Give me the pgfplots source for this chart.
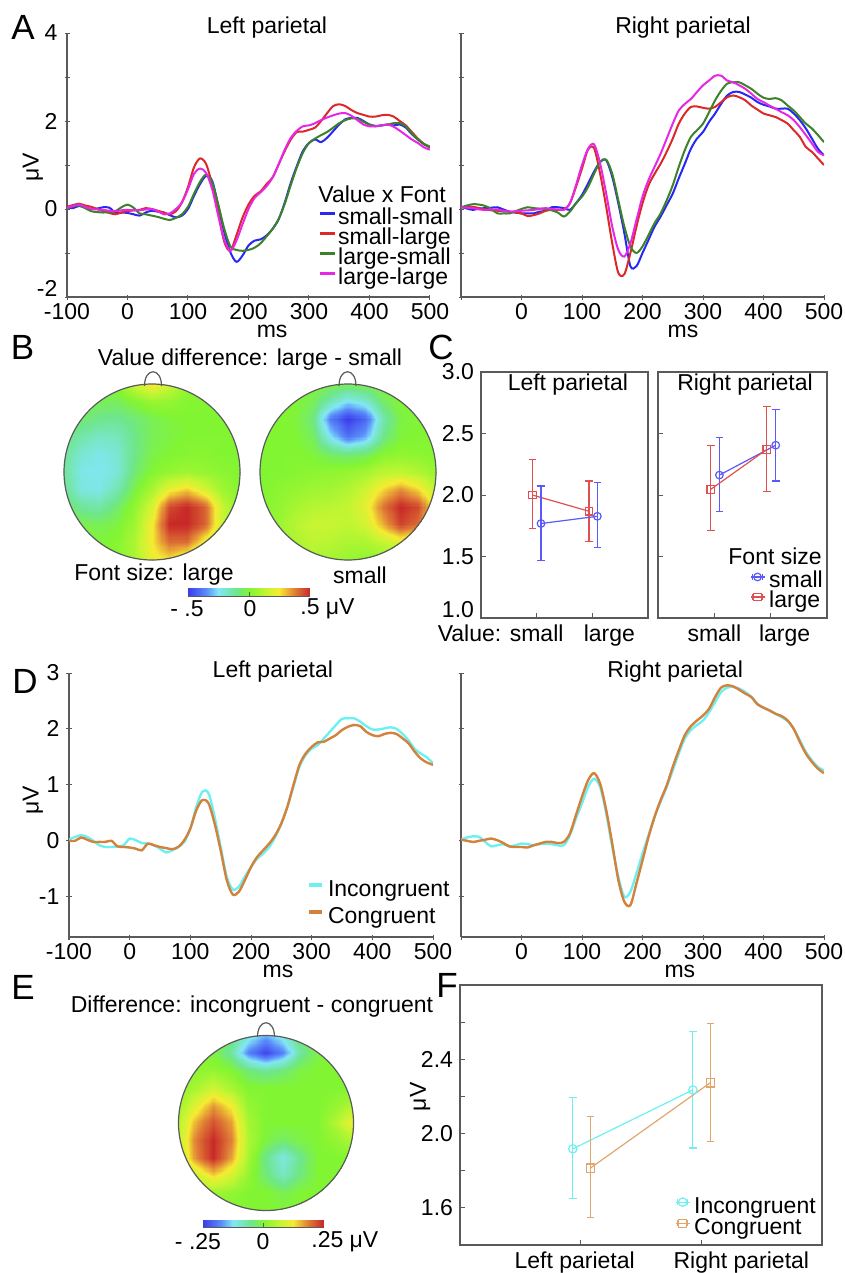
\documentclass[border=0pt]{standalone}
\usepackage{fontspec}
\setmainfont{Liberation Sans}
\usepackage{pgfplots}
\pgfplotsset{compat=1.18}
\usepgfplotslibrary{patchplots}
\usepackage{pgfplotstable}

\newcommand\fs{\fontsize{11.5pt}{13pt}\selectfont}
\newcommand\fl{\fontsize{17.5pt}{20pt}\selectfont}

\definecolor{cBlue}{RGB}{40,40,245}
\definecolor{cRed}{RGB}{220,40,40}
\definecolor{cGreen}{RGB}{60,130,40}
\definecolor{cMag}{RGB}{230,40,230}
\definecolor{cCyan}{RGB}{110,240,240}
\definecolor{cOrange}{RGB}{210,130,60}
\definecolor{cBlueC}{RGB}{90,90,250}
\definecolor{cRedC}{RGB}{225,80,80}
\definecolor{cCyanF}{RGB}{110,240,240}
\definecolor{cOrangeF}{RGB}{225,165,110}
\definecolor{axgray}{RGB}{90,90,90}

\pgfplotsset{
  colormap={topo}{rgb255(0cm)=(60,60,235); rgb255(1.5cm)=(90,140,250); rgb255(2.5cm)=(130,230,245); rgb255(4cm)=(110,230,140); rgb255(5cm)=(130,245,50); rgb255(6.5cm)=(200,245,50); rgb255(7.5cm)=(245,235,50); rgb255(8.7cm)=(225,130,55); rgb255(10cm)=(200,40,40)},
  base/.style={scale only axis, /pgf/number format/assume math mode=true,
    tick label style={font=\fs}, label style={font=\fs}, title style={font=\fs},
    axis line style={draw=axgray, line width=0.6pt}, tick style={draw=axgray, line width=0.5pt},
    tick align=inside, major tick length=2.5pt},
  erp/.style={base, width=181.5pt, height=132pt, axis lines=left,
    axis line style={-}, every outer x axis line/.append style={-}, every outer y axis line/.append style={-},
    xmin=-100, xmax=500, xtick={-100,0,...,500}, xticklabel style={yshift=1.5pt},
    every axis plot/.append style={line width=1pt, smooth, tension=0.5}},
  cbox/.style={base, height=123pt, xmin=0, xmax=3, ymin=1, ymax=3, ytick={1,1.5,2,2.5,3}, xtick={1,2},
    tick pos=left, axis line style={draw=axgray, line width=0.7pt}},
  cplot/.style={line width=0.6pt, mark size=1.9pt, mark options={solid, line width=0.6pt},
    error bars/y dir=both, error bars/y explicit,
    error bars/error bar style={line width=0.6pt},
    error bars/error mark options={rotate=90, line width=0.6pt, mark size=1.9pt}},
  ebleg/.style={legend image code/.code={
    \draw[##1, mark=none] (0pt,3pt)--(7pt,3pt) (1pt,1.5pt)--(1pt,4.5pt) (6pt,1.5pt)--(6pt,4.5pt);
    \draw[##1] plot coordinates {(3.5pt,3pt)};}},
  topo/.style={hide axis, scale only axis, xmin=-1, xmax=1, ymin=-1, ymax=1, view={0}{90},
    colormap name=topo, anchor=center},
  cbar/.style={hide axis, scale only axis, xmin=-0.5, xmax=0.5, ymin=0, ymax=1, view={0}{90},
    colormap name=topo, anchor=south west, point meta min=-0.5, point meta max=0.5},
}

\pgfplotstableread{
t ss sl ls ll
-100 0.04 0.05 0.02 0.03
-90 0.02 0.09 0.06 0.07
-80 0.07 0.12 0.08 0.10
-70 0.03 0.08 0.02 0.05
-60 0.00 0.05 -0.05 0.00
-50 0.01 0.00 -0.07 -0.01
-40 0.04 -0.05 -0.08 -0.02
-30 0.03 -0.09 -0.07 -0.04
-20 -0.08 -0.12 -0.05 -0.05
-10 -0.08 -0.08 0.04 -0.03
0 -0.09 -0.05 0.10 -0.02
10 -0.12 -0.03 0.03 -0.03
20 -0.15 -0.02 -0.10 -0.03
30 -0.08 0.02 -0.12 -0.01
40 -0.04 0.00 -0.15 0.00
50 -0.06 -0.04 -0.18 -0.05
60 -0.08 -0.08 -0.22 -0.12
70 -0.14 -0.12 -0.25 -0.10
80 -0.19 -0.05 -0.20 0.00
90 -0.15 0.15 -0.12 0.15
100 0.00 0.50 0.05 0.45
110 0.30 0.95 0.35 0.80
120 0.57 1.15 0.62 0.92
130 0.75 1.02 0.78 0.82
140 0.64 0.55 0.60 0.45
150 0.08 -0.10 0.10 -0.15
160 -0.53 -0.75 -0.45 -0.70
170 -0.98 -0.95 -0.85 -0.95
180 -1.20 -0.60 -0.93 -0.72
190 -1.06 -0.20 -0.95 -0.35
200 -0.83 0.10 -0.93 0.00
210 -0.72 0.30 -0.88 0.25
220 -0.69 0.40 -0.78 0.38
230 -0.60 0.57 -0.62 0.52
240 -0.45 0.72 -0.45 0.72
250 -0.23 1.02 -0.22 1.02
260 0.15 1.32 0.12 1.35
270 0.60 1.58 0.55 1.62
280 0.98 1.75 0.95 1.78
290 1.32 1.76 1.28 1.88
300 1.50 1.80 1.50 1.90
310 1.58 1.85 1.60 1.95
320 1.52 2.00 1.68 2.02
330 1.62 2.18 1.75 2.08
340 1.77 2.34 1.85 2.13
350 1.92 2.38 1.95 2.17
360 2.04 2.34 2.02 2.18
370 2.07 2.25 2.06 2.12
380 2.07 2.18 2.05 2.02
390 2.00 2.14 1.98 1.92
400 1.92 2.10 1.92 1.88
410 1.89 2.10 1.88 1.88
420 1.90 2.13 1.90 1.90
430 1.92 2.14 1.92 1.92
440 1.90 2.10 1.95 1.87
450 1.92 2.00 1.95 1.78
460 1.85 1.90 1.88 1.68
470 1.70 1.75 1.72 1.58
480 1.58 1.60 1.58 1.50
490 1.47 1.48 1.48 1.40
500 1.40 1.40 1.42 1.35
}\tabAL

\pgfplotstableread{
t ss sl ls ll
-100 0.05 0.04 0.04 0.04
-90 0.01 0.05 0.08 0.03
-80 -0.02 0.05 0.11 0.02
-70 0.01 0.02 0.10 -0.01
-60 0.02 -0.01 0.07 -0.02
-50 0.03 -0.03 0.00 -0.01
-40 0.04 -0.04 -0.10 -0.01
-30 -0.01 -0.05 -0.10 -0.04
-20 -0.06 -0.06 -0.10 -0.06
-10 -0.08 -0.08 -0.05 -0.05
0 -0.10 -0.10 0.00 -0.04
10 -0.10 -0.16 0.04 -0.03
20 -0.10 -0.14 0.02 -0.02
30 -0.06 -0.10 0.01 0.00
40 -0.04 -0.04 0.00 0.02
50 0.04 -0.02 -0.03 0.00
60 0.04 -0.02 -0.08 -0.01
70 0.02 -0.01 -0.17 -0.02
80 -0.02 0.13 -0.06 0.13
90 0.13 0.50 0.13 0.54
100 0.32 0.92 0.28 1.00
110 0.58 1.35 0.50 1.37
120 0.85 1.38 0.80 1.47
130 1.07 0.80 1.07 1.03
140 1.11 0.05 1.12 0.35
150 0.73 -0.78 0.80 -0.40
160 0.13 -1.45 0.20 -0.93
170 -0.55 -1.48 -0.40 -1.08
180 -1.30 -1.00 -0.85 -0.78
190 -1.30 -0.40 -1.00 -0.25
200 -1.00 0.13 -0.85 0.28
210 -0.70 0.54 -0.59 0.66
220 -0.40 0.80 -0.32 0.96
230 -0.17 1.03 -0.10 1.26
240 0.09 1.30 0.20 1.60
250 0.35 1.60 0.54 1.94
260 0.70 1.94 0.96 2.24
270 1.03 2.17 1.34 2.39
280 1.37 2.32 1.64 2.50
290 1.60 2.33 1.79 2.66
300 1.75 2.30 1.94 2.81
310 1.98 2.28 2.20 2.92
320 2.17 2.32 2.47 3.03
330 2.39 2.43 2.69 3.03
340 2.58 2.54 2.85 2.92
350 2.66 2.58 2.88 2.88
360 2.66 2.54 2.88 2.81
370 2.60 2.47 2.81 2.73
380 2.53 2.35 2.73 2.62
390 2.43 2.26 2.62 2.50
400 2.37 2.17 2.53 2.43
410 2.33 2.13 2.50 2.35
420 2.28 2.09 2.52 2.28
430 2.28 2.02 2.47 2.20
440 2.28 1.94 2.35 2.13
450 2.17 1.79 2.24 2.02
460 2.02 1.64 2.09 1.86
470 1.83 1.41 1.94 1.68
480 1.60 1.30 1.83 1.49
490 1.37 1.15 1.68 1.30
500 1.22 1.00 1.52 1.22
}\tabAR

\pgfplotstableread{
t inc con
-100 0.02 0.00
-90 0.07 0.00
-80 0.10 0.06
-70 0.07 0.02
-60 0.00 -0.02
-50 -0.08 -0.02
-40 -0.11 -0.02
-30 -0.11 0.00
-20 -0.10 -0.10
-10 -0.08 -0.11
0 0.04 -0.12
10 0.01 -0.14
20 -0.04 -0.17
30 -0.05 -0.05
40 -0.08 -0.08
50 -0.14 -0.11
60 -0.21 -0.13
70 -0.17 -0.15
80 -0.11 -0.11
90 -0.02 0.01
100 0.22 0.22
110 0.61 0.55
120 0.88 0.73
130 0.85 0.67
140 0.43 0.31
150 -0.11 -0.17
160 -0.64 -0.70
170 -0.87 -0.96
180 -0.82 -0.91
190 -0.64 -0.70
200 -0.47 -0.47
210 -0.32 -0.29
220 -0.23 -0.17
230 -0.11 -0.05
240 0.07 0.10
250 0.31 0.31
260 0.61 0.61
270 0.97 1.00
280 1.33 1.36
290 1.53 1.56
300 1.65 1.68
310 1.71 1.76
320 1.83 1.77
330 1.95 1.83
340 2.07 1.89
350 2.18 1.98
360 2.19 2.04
370 2.19 2.07
380 2.13 2.05
390 2.05 1.95
400 1.99 1.89
410 1.99 1.87
420 2.01 1.91
430 2.03 1.93
440 2.00 1.91
450 1.91 1.83
460 1.79 1.74
470 1.64 1.59
480 1.56 1.47
490 1.49 1.40
500 1.39 1.36
}\tabDL

\pgfplotstableread{
t inc con
-100 0.02 0.02
-90 0.06 0.00
-80 0.08 -0.02
-70 0.07 0.00
-60 -0.02 0.02
-50 -0.10 0.04
-40 -0.08 0.01
-30 -0.06 -0.04
-20 -0.10 -0.10
-10 -0.08 -0.11
0 -0.05 -0.11
10 -0.06 -0.12
20 -0.08 -0.08
30 -0.06 -0.05
40 -0.05 -0.02
50 -0.06 -0.02
60 -0.08 -0.04
70 -0.08 -0.02
80 0.10 0.13
90 0.40 0.46
100 0.67 0.79
110 0.96 1.08
120 1.11 1.21
130 0.96 1.02
140 0.49 0.55
150 -0.11 -0.05
160 -0.64 -0.70
170 -1.00 -1.09
180 -0.91 -1.15
190 -0.58 -0.76
200 -0.23 -0.35
210 0.10 0.07
220 0.43 0.43
230 0.70 0.73
240 0.96 0.99
250 1.26 1.32
260 1.56 1.62
270 1.83 1.89
280 1.98 2.05
290 2.07 2.15
300 2.15 2.24
310 2.30 2.36
320 2.48 2.57
330 2.66 2.74
340 2.74 2.78
350 2.75 2.76
360 2.72 2.70
370 2.66 2.63
380 2.57 2.57
390 2.45 2.44
400 2.38 2.38
410 2.33 2.33
420 2.27 2.27
430 2.21 2.23
440 2.14 2.15
450 2.00 2.00
460 1.80 1.77
470 1.59 1.56
480 1.44 1.41
490 1.32 1.29
500 1.26 1.21
}\tabDR

\begin{document}
\begin{tikzpicture}[x=0.5pt,y=-0.5pt]
\path[use as bounding box] (0,0) rectangle (845,1273);

% ---------------- Panel A left
\begin{axis}[erp, at={(33.5pt,-148.5pt)}, anchor=south west,
  ymin=-2, ymax=4, ytick={-2,...,4}, yticklabels={\raisebox{9pt}{-2},,0,,2,,4},
  title={Left parietal}, title style={at={(axis description cs:0.551,1)}, anchor=base, yshift=-6pt},
  xlabel={ms}, xlabel style={at={(axis description cs:0.565,0)}, anchor=center, yshift=-17pt},
  ylabel={μV}, ylabel style={at={(axis description cs:-0.094,0.49)}, anchor=center},
  legend style={at={(axis description cs:0.6915,0.33)}, anchor=north west, draw=none, fill=none,
    inner sep=0pt, outer sep=0pt, font=\fs, row sep=0pt, column sep=1pt,
    nodes={inner sep=0pt, text height=7.5pt, text depth=2.5pt}},
  legend cell align=left,
  legend image code/.code={\draw[#1, line width=1.6pt] (0pt,3pt) -- (7.5pt,3pt);}]
\addplot[cBlue] table[x=t, y=ss] {\tabAL}; \addlegendentry{small-small}
\addplot[cRed] table[x=t, y=sl] {\tabAL}; \addlegendentry{small-large}
\addplot[cGreen] table[x=t, y=ls] {\tabAL}; \addlegendentry{large-small}
\addplot[cMag] table[x=t, y=ll] {\tabAL}; \addlegendentry{large-large}
\end{axis}
\node[anchor=west, inner sep=0pt, font=\fs] at (318,194) {Value x Font};

% ---------------- Panel A right
\begin{axis}[erp, at={(230.5pt,-148.5pt)}, anchor=south west,
  ymin=-2, ymax=4, ytick={-2,...,4}, yticklabels={},
  xticklabels={,0,100,200,300,400,500},
  title={Right parietal}, title style={at={(axis description cs:0.6116,1)}, anchor=base, yshift=-6pt},
  xlabel={ms}, xlabel style={at={(axis description cs:0.6116,0)}, anchor=center, yshift=-17pt}]
\addplot[cBlue] table[x=t, y=ss] {\tabAR};
\addplot[cRed] table[x=t, y=sl] {\tabAR};
\addplot[cGreen] table[x=t, y=ls] {\tabAR};
\addplot[cMag] table[x=t, y=ll] {\tabAR};
\end{axis}

% ---------------- Panel B topomaps
\node[font=\fs] at (250,360) {Value difference: large - small};
\begin{scope}
\clip (152,472) circle (88);
\begin{axis}[topo, at={(76pt,-236pt)}, width=88pt, height=88pt, point meta min=-0.5, point meta max=0.5]
\addplot3[surf, shader=interp, patch type=bilinear, mesh/rows=11, mesh/cols=11] table {
x y z
-1 1 0.00
-0.8 1 0.00
-0.6 1 -0.01
-0.4 1 0.02
-0.2 1 0.16
0 1 0.27
0.2 1 0.17
0.4 1 0.04
0.6 1 0.00
0.8 1 0.00
1 1 0.00

-1 0.8 -0.02
-0.8 0.8 -0.03
-0.6 0.8 -0.04
-0.4 0.8 -0.05
-0.2 0.8 0.00
0 0.8 0.05
0.2 0.8 0.04
0.4 0.8 0.01
0.6 0.8 0.00
0.8 0.8 0.00
1 0.8 0.00

-1 0.6 -0.04
-0.8 0.6 -0.07
-0.6 0.6 -0.10
-0.4 0.6 -0.11
-0.2 0.6 -0.08
0 0.6 -0.04
0.2 0.6 -0.01
0.4 0.6 0.00
0.6 0.6 0.00
0.8 0.6 0.00
1 0.6 0.00

-1 0.4 -0.08
-0.8 0.4 -0.14
-0.6 0.4 -0.18
-0.4 0.4 -0.17
-0.2 0.4 -0.10
0 0.4 -0.04
0.2 0.4 -0.02
0.4 0.4 0.00
0.6 0.4 0.00
0.8 0.4 0.00
1 0.4 0.00

-1 0.2 -0.12
-0.8 0.2 -0.20
-0.6 0.2 -0.23
-0.4 0.2 -0.20
-0.2 0.2 -0.10
0 0.2 -0.03
0.2 0.2 0.00
0.4 0.2 0.01
0.6 0.2 0.01
0.8 0.2 0.00
1 0.2 0.00

-1 0 -0.12
-0.8 0 -0.23
-0.6 0 -0.24
-0.4 0 -0.21
-0.2 0 -0.08
0 0 0.00
0.2 0 0.04
0.4 0 0.06
0.6 0 0.04
0.8 0 0.02
1 0 0.00

-1 -0.2 -0.10
-0.8 -0.2 -0.22
-0.6 -0.2 -0.23
-0.4 -0.2 -0.16
-0.2 -0.2 -0.03
0 -0.2 0.08
0.2 -0.2 0.22
0.4 -0.2 0.28
0.6 -0.2 0.18
0.8 -0.2 0.06
1 -0.2 0.01

-1 -0.4 -0.05
-0.8 -0.4 -0.12
-0.6 -0.4 -0.14
-0.4 -0.4 -0.07
-0.2 -0.4 0.03
0 -0.4 0.18
0.2 -0.4 0.45
0.4 -0.4 0.55
0.6 -0.4 0.42
0.8 -0.4 0.15
1 -0.4 0.02

-1 -0.6 -0.02
-0.8 -0.6 -0.03
-0.6 -0.6 -0.04
-0.4 -0.6 -0.02
-0.2 -0.6 0.06
0 -0.6 0.24
0.2 -0.6 0.50
0.4 -0.6 0.58
0.6 -0.6 0.42
0.8 -0.6 0.15
1 -0.6 0.02

-1 -0.8 0.00
-0.8 -0.8 0.00
-0.6 -0.8 -0.01
-0.4 -0.8 0.01
-0.2 -0.8 0.09
0 -0.8 0.25
0.2 -0.8 0.40
0.4 -0.8 0.40
0.6 -0.8 0.22
0.8 -0.8 0.07
1 -0.8 0.01

-1 -1 0.00
-0.8 -1 0.00
-0.6 -1 0.00
-0.4 -1 0.01
-0.2 -1 0.08
0 -1 0.22
0.2 -1 0.26
0.4 -1 0.16
0.6 -1 0.07
0.8 -1 0.02
1 -1 0.00
};
\end{axis}
\end{scope}
\draw[axgray, line width=0.6pt] (152,472) circle (88);
\draw[axgray, line width=0.6pt] (144.5,386) .. controls (144.5,367) and (161.5,367) .. (161.5,386);

\begin{scope}
\clip (348,472) circle (88);
\begin{axis}[topo, at={(174pt,-236pt)}, width=88pt, height=88pt, point meta min=-0.5, point meta max=0.5]
\addplot3[surf, shader=interp, patch type=bilinear, mesh/rows=11, mesh/cols=11] table {
x y z
-1 1 0.00
-0.8 1 0.00
-0.6 1 0.00
-0.4 1 0.00
-0.2 1 -0.02
0 1 -0.04
0.2 1 -0.02
0.4 1 0.00
0.6 1 0.00
0.8 1 0.00
1 1 0.00

-1 0.8 0.00
-0.8 0.8 0.00
-0.6 0.8 0.00
-0.4 0.8 -0.04
-0.2 0.8 -0.15
0 0.8 -0.25
0.2 0.8 -0.20
0.4 0.8 -0.06
0.6 0.8 0.00
0.8 0.8 0.00
1 0.8 0.00

-1 0.6 0.00
-0.8 0.6 0.00
-0.6 0.6 -0.01
-0.4 0.6 -0.08
-0.2 0.6 -0.38
0 0.6 -0.50
0.2 0.6 -0.42
0.4 0.6 -0.15
0.6 0.6 -0.02
0.8 0.6 0.00
1 0.6 0.00

-1 0.4 0.00
-0.8 0.4 0.00
-0.6 0.4 0.00
-0.4 0.4 -0.05
-0.2 0.4 -0.25
0 0.4 -0.40
0.2 0.4 -0.32
0.4 0.4 -0.10
0.6 0.4 -0.01
0.8 0.4 0.00
1 0.4 0.00

-1 0.2 0.00
-0.8 0.2 0.00
-0.6 0.2 0.00
-0.4 0.2 -0.01
-0.2 0.2 -0.06
0 0.2 -0.08
0.2 0.2 -0.06
0.4 0.2 0.01
0.6 0.2 0.03
0.8 0.2 0.02
1 0.2 0.01

-1 0 0.00
-0.8 0 0.00
-0.6 0 0.01
-0.4 0 0.02
-0.2 0 0.03
0 0 0.04
0.2 0 0.07
0.4 0 0.12
0.6 0 0.13
0.8 0 0.10
1 0 0.04

-1 -0.2 0.00
-0.8 -0.2 0.02
-0.6 -0.2 0.04
-0.4 -0.2 0.06
-0.2 -0.2 0.07
0 -0.2 0.10
0.2 -0.2 0.16
0.4 -0.2 0.27
0.6 -0.2 0.35
0.8 -0.2 0.27
1 -0.2 0.12

-1 -0.4 0.01
-0.8 -0.4 0.03
-0.6 -0.4 0.08
-0.4 -0.4 0.11
-0.2 -0.4 0.12
0 -0.4 0.14
0.2 -0.4 0.21
0.4 -0.4 0.39
0.6 -0.4 0.53
0.8 -0.4 0.45
1 -0.4 0.22

-1 -0.6 0.01
-0.8 -0.6 0.05
-0.6 -0.6 0.11
-0.4 -0.6 0.15
-0.2 -0.6 0.15
0 -0.6 0.13
0.2 -0.6 0.17
0.4 -0.6 0.32
0.6 -0.6 0.46
0.8 -0.6 0.40
1 -0.6 0.18

-1 -0.8 0.01
-0.8 -0.8 0.04
-0.6 -0.8 0.09
-0.4 -0.8 0.13
-0.2 -0.8 0.12
0 -0.8 0.09
0.2 -0.8 0.09
0.4 -0.8 0.14
0.6 -0.8 0.20
0.8 -0.8 0.16
1 -0.8 0.07

-1 -1 0.01
-0.8 -1 0.02
-0.6 -1 0.05
-0.4 -1 0.08
-0.2 -1 0.07
0 -1 0.05
0.2 -1 0.03
0.4 -1 0.04
0.6 -1 0.05
0.8 -1 0.04
1 -1 0.02
};
\end{axis}
\end{scope}
\draw[axgray, line width=0.6pt] (348,472) circle (88);
\draw[axgray, line width=0.6pt] (339,386) .. controls (339,367) and (356,367) .. (356,386);

\node[font=\fs] at (154,575) {Font size: large};
\node[font=\fs] at (360,575) {small};
\begin{axis}[cbar, at={(94pt,-298pt)}, width=61pt, height=4pt]
\addplot3[surf, shader=interp] coordinates {
(-0.5,0,-0.5) (-0.25,0,-0.25) (0,0,0) (0.25,0,0.25) (0.5,0,0.5)

(-0.5,1,-0.5) (-0.25,1,-0.25) (0,1,0) (0.25,1,0.25) (0.5,1,0.5)
};
\end{axis}
\draw[axgray, line width=0.5pt] (188,596.5) -- (310,596.5) (249,596.5) -- (249,592);
\node[font=\fs] at (187,609) {- .5};
\node[font=\fs] at (250,609) {0};
\node[font=\fs, anchor=west, inner sep=0pt] at (300,609) {.5 μV};

% ---------------- Panel C
\begin{axis}[cbox, at={(240.5pt,-309pt)}, anchor=south west, width=83.5pt,
  yticklabels={\raisebox{9pt}{1.0},1.5,2.0,2.5,3.0}, xticklabels={\llap{Value: }small, \hspace*{17pt}large},
  title={Left parietal}, title style={at={(axis description cs:0.52,0.947)}, anchor=center, yshift=-6pt}]
\addplot[cRedC, mark=square, cplot] coordinates {(0.922,2.0) += (0,0.286) -= (0,0.273) (1.94,1.868) += (0,0.246) -= (0,0.244)};
\addplot[cBlueC, mark=o, cplot] coordinates {(1.078,1.768) += (0,0.305) -= (0,0.298) (2.09,1.827) += (0,0.273) -= (0,0.257)};
\end{axis}
\begin{axis}[cbox, at={(329pt,-309pt)}, anchor=south west, width=84.5pt,
  yticklabels={}, xticklabels={small, \hspace*{14pt}large},
  title={Right parietal}, title style={at={(axis description cs:0.515,0.947)}, anchor=center, yshift=-6pt},
  legend style={at={(axis description cs:0.544,0.183)}, anchor=north west, draw=none, fill=none,
    inner sep=0pt, outer sep=0pt, font=\fs, row sep=0pt, column sep=2pt,
    nodes={inner sep=0pt, text height=7.5pt, text depth=2.5pt}},
  legend cell align=left, ebleg]
\addplot[cBlueC, mark=o, cplot] coordinates {(1.09,2.162) += (0,0.303) -= (0,0.297) (2.09,2.405) += (0,0.29) -= (0,0.291)};
\addlegendentry{small}
\addplot[cRedC, mark=square, cplot] coordinates {(0.936,2.046) += (0,0.354) -= (0,0.336) (1.93,2.37) += (0,0.35) -= (0,0.343)};
\addlegendentry{large}
\end{axis}
\node[font=\fs, anchor=west, inner sep=0pt] at (728,556) {Font size};

% ---------------- Panel D left
\begin{axis}[erp, at={(34.5pt,-468.5pt)}, anchor=south west, width=182pt,
  ymin=-1.72, ymax=3, ytick={-1,0,1,2,3},
  every axis plot/.append style={line width=1.2pt},
  title={Left parietal}, title style={at={(axis description cs:0.56,1)}, anchor=base, yshift=-8pt},
  xlabel={ms}, xlabel style={at={(axis description cs:0.574,0)}, anchor=center, yshift=-17pt},
  ylabel={μV}, ylabel style={at={(axis description cs:-0.099,0.519)}, anchor=center},
  legend style={at={(axis description cs:0.654,0.212)}, anchor=north west, draw=none, fill=none,
    inner sep=0pt, outer sep=0pt, font=\fs, row sep=3.5pt, column sep=2pt,
    nodes={inner sep=0pt, text height=7.5pt, text depth=2.5pt}},
  legend cell align=left,
  legend image code/.code={\draw[#1, line width=2pt] (0pt,3pt) -- (6.5pt,3pt);}]
\addplot[cCyan] table[x=t, y=inc] {\tabDL}; \addlegendentry{Incongruent}
\addplot[cOrange] table[x=t, y=con] {\tabDL}; \addlegendentry{Congruent}
\end{axis}

% ---------------- Panel D right
\begin{axis}[erp, at={(230.5pt,-468.5pt)}, anchor=south west,
  ymin=-1.72, ymax=3, ytick={-1,0,1,2,3}, yticklabels={},
  xticklabels={,0,100,200,300,400,500},
  every axis plot/.append style={line width=1.2pt},
  title={Right parietal}, title style={at={(axis description cs:0.59,1)}, anchor=base, yshift=-8pt},
  xlabel={ms}, xlabel style={at={(axis description cs:0.603,0)}, anchor=center, yshift=-17pt}]
\addplot[cCyan] table[x=t, y=inc] {\tabDR};
\addplot[cOrange] table[x=t, y=con] {\tabDR};
\end{axis}

% ---------------- Panel E
\node[font=\fs] at (252,1007) {Difference: incongruent - congruent};
\begin{scope}
\clip (266,1123) circle (87.5);
\begin{axis}[topo, at={(133pt,-561.5pt)}, width=87.5pt, height=87.5pt, point meta min=-0.25, point meta max=0.25]
\addplot3[surf, shader=interp, patch type=bilinear, mesh/rows=11, mesh/cols=11] table {
x y z
-1 1 0.00
-0.8 1 0.00
-0.6 1 0.00
-0.4 1 -0.03
-0.2 1 -0.10
0 1 -0.15
0.2 1 -0.10
0.4 1 -0.03
0.6 1 0.00
0.8 1 0.00
1 1 0.00

-1 0.8 0.00
-0.8 0.8 0.00
-0.6 0.8 -0.01
-0.4 0.8 -0.06
-0.2 0.8 -0.18
0 0.8 -0.24
0.2 0.8 -0.18
0.4 0.8 -0.06
0.6 0.8 -0.01
0.8 0.8 0.00
1 0.8 0.00

-1 0.6 0.00
-0.8 0.6 0.01
-0.6 0.6 0.02
-0.4 0.6 0.00
-0.2 0.6 -0.04
0 0.6 -0.06
0.2 0.6 -0.04
0.4 0.6 -0.01
0.6 0.6 0.00
0.8 0.6 0.00
1 0.6 0.00

-1 0.4 0.01
-0.8 0.4 0.04
-0.6 0.4 0.08
-0.4 0.4 0.04
-0.2 0.4 0.00
0 0.4 0.00
0.2 0.4 0.00
0.4 0.4 0.00
0.6 0.4 0.00
0.8 0.4 0.00
1 0.4 0.00

-1 0.2 0.03
-0.8 0.2 0.10
-0.6 0.2 0.17
-0.4 0.2 0.12
-0.2 0.2 0.02
0 0.2 0.00
0.2 0.2 0.00
0.4 0.2 0.00
0.6 0.2 0.00
0.8 0.2 0.02
1 0.2 0.05

-1 0 0.05
-0.8 0 0.16
-0.6 0 0.22
-0.4 0 0.17
-0.2 0 0.04
0 0 0.00
0.2 0 0.00
0.4 0 0.00
0.6 0 0.00
0.8 0 0.05
1 0 0.12

-1 -0.2 0.06
-0.8 -0.2 0.19
-0.6 -0.2 0.25
-0.4 -0.2 0.19
-0.2 -0.2 0.05
0 -0.2 -0.01
0.2 -0.2 -0.03
0.4 -0.2 -0.01
0.6 -0.2 0.00
0.8 -0.2 0.02
1 -0.2 0.05

-1 -0.4 0.05
-0.8 -0.4 0.18
-0.6 -0.4 0.25
-0.4 -0.4 0.17
-0.2 -0.4 0.04
0 -0.4 -0.05
0.2 -0.4 -0.11
0.4 -0.4 -0.05
0.6 -0.4 0.00
0.8 -0.4 0.00
1 -0.4 0.00

-1 -0.6 0.02
-0.8 -0.6 0.08
-0.6 -0.6 0.14
-0.4 -0.6 0.09
-0.2 -0.6 0.02
0 -0.6 -0.04
0.2 -0.6 -0.09
0.4 -0.6 -0.04
0.6 -0.6 0.00
0.8 -0.6 0.00
1 -0.6 0.00

-1 -0.8 0.00
-0.8 -0.8 0.02
-0.6 -0.8 0.03
-0.4 -0.8 0.02
-0.2 -0.8 0.00
0 -0.8 0.00
0.2 -0.8 -0.02
0.4 -0.8 0.00
0.6 -0.8 0.00
0.8 -0.8 0.00
1 -0.8 0.00

-1 -1 0.00
-0.8 -1 0.00
-0.6 -1 0.00
-0.4 -1 0.00
-0.2 -1 0.00
0 -1 0.00
0.2 -1 0.00
0.4 -1 0.00
0.6 -1 0.00
0.8 -1 0.00
1 -1 0.00
};
\end{axis}
\end{scope}
\draw[axgray, line width=0.6pt] (266,1123) circle (87.5);
\draw[axgray, line width=0.6pt] (257.5,1037) .. controls (257.5,1018) and (274.5,1018) .. (274.5,1037);
\begin{axis}[cbar, at={(101.5pt,-613.5pt)}, width=60pt, height=3.5pt, point meta min=-0.25, point meta max=0.25]
\addplot3[surf, shader=interp] coordinates {
(-0.5,0,-0.25) (-0.25,0,-0.125) (0,0,0) (0.25,0,0.125) (0.5,0,0.25)

(-0.5,1,-0.25) (-0.25,1,-0.125) (0,1,0) (0.25,1,0.125) (0.5,1,0.25)
};
\end{axis}
\draw[axgray, line width=0.5pt] (203,1227.5) -- (323,1227.5) (263,1227.5) -- (263,1223);
\node[font=\fs] at (198,1242) {- .25};
\node[font=\fs] at (263,1242) {0};
\node[font=\fs, anchor=west, inner sep=0pt] at (311,1242) {.25 μV};

% ---------------- Panel F
\begin{axis}[base, at={(230pt,-622.5pt)}, anchor=south west, width=181pt, height=130pt,
  xmin=0, xmax=3, ymin=1.4, ymax=2.8, ytick={1.6,1.8,2.0,2.2,2.4,2.6}, yticklabels={1.6,,2.0,,2.4,},
  xtick={1,2}, xticklabels={Left parietal\hspace*{6pt}, \hspace*{40pt}Right parietal}, tick pos=left,
  axis line style={draw=axgray, line width=0.7pt},
  ylabel={μV}, ylabel style={at={(axis description cs:-0.11,0.57)}, anchor=center},
  legend style={at={(axis description cs:0.594,0.181)}, anchor=north west, draw=none, fill=none,
    inner sep=0pt, outer sep=0pt, font=\fs, row sep=0.5pt, column sep=2pt,
    nodes={inner sep=0pt, text height=7.5pt, text depth=2.5pt}},
  legend cell align=left, ebleg]
\addplot[cCyanF, mark=o, cplot, mark size=2.1pt] coordinates {(0.935,1.918) += (0,0.275) -= (0,0.266) (1.93,2.235) += (0,0.315) -= (0,0.313)};
\addlegendentry{Incongruent}
\addplot[cOrangeF, mark=square, cplot, mark size=2.1pt] coordinates {(1.08,1.814) += (0,0.276) -= (0,0.264) (2.075,2.274) += (0,0.32) -= (0,0.316)};
\addlegendentry{Congruent}
\end{axis}

% panel letters
\node[font=\fl] at (23,27) {A};
\node[font=\fl] at (22.5,347) {B};
\node[font=\fl] at (441,347) {C};
\node[font=\fl] at (25,681) {D};
\node[font=\fl] at (23,987) {E};
\node[font=\fl] at (447,985) {F};
\end{tikzpicture}
\end{document}
